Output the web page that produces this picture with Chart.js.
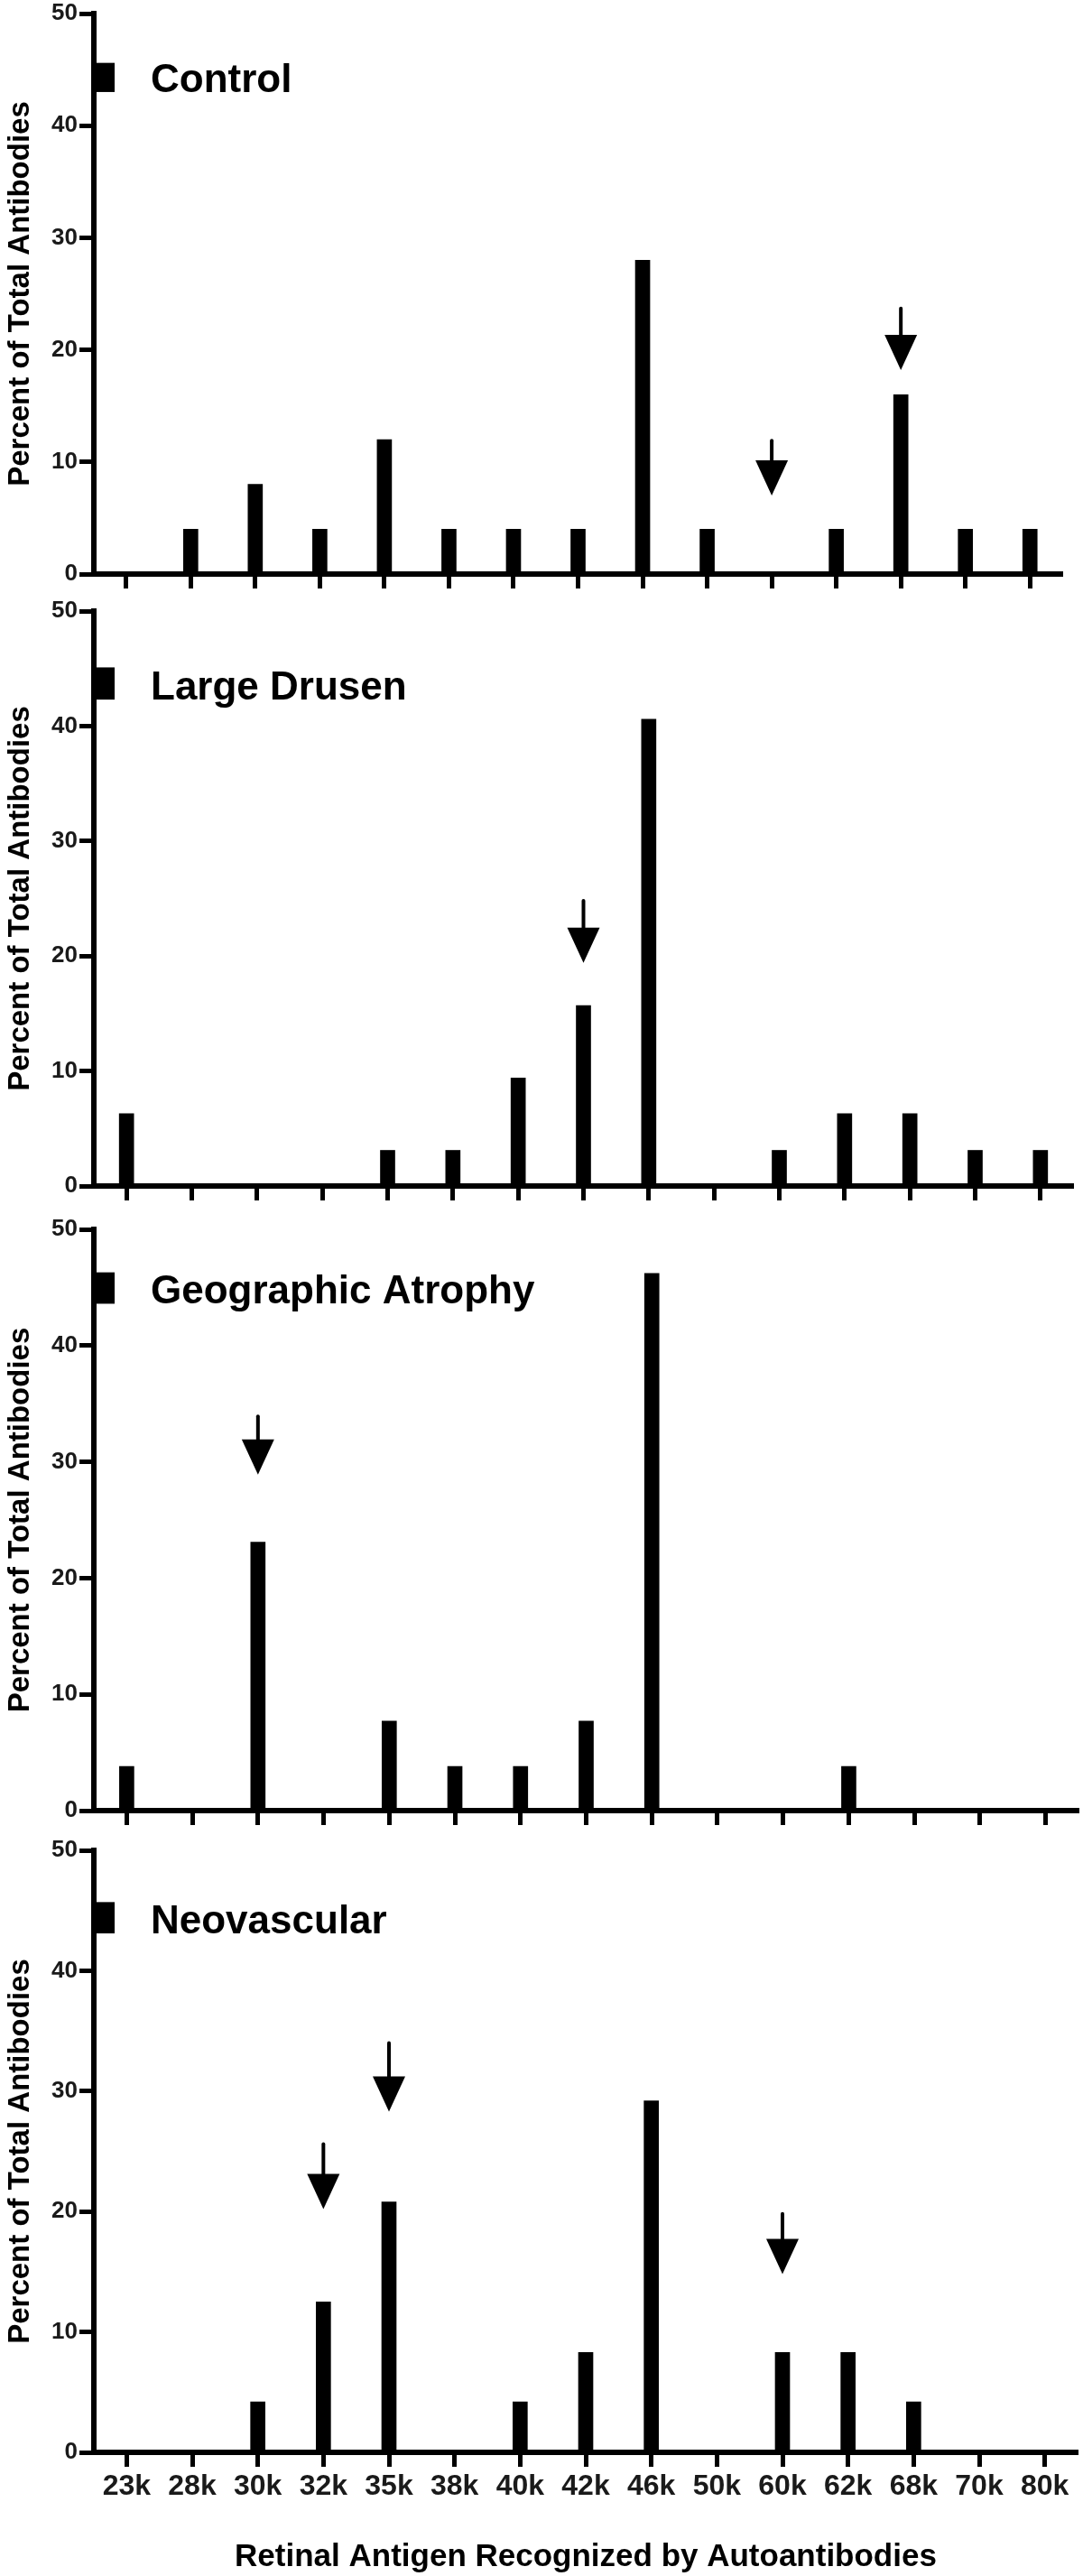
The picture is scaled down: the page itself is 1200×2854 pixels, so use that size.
<!DOCTYPE html>
<html>
<head>
<meta charset="utf-8">
<title>Retinal antigens recognized by autoantibodies</title>
<script src="https://cdn.jsdelivr.net/npm/chart.js@4.4.1/dist/chart.umd.min.js"></script>
<style>
  html, body { margin: 0; padding: 0; background: #fff; }
  #page { position: relative; width: 1200px; height: 2854px; overflow: hidden; }
  canvas { position: absolute; left: 0; }
</style>
</head>
<body>
<div id="page">
  <canvas id="c1" width="1200" height="656" style="top:0px"></canvas>
  <canvas id="c2" width="1200" height="672" style="top:662px"></canvas>
  <canvas id="c3" width="1200" height="679" style="top:1347px"></canvas>
  <canvas id="c4" width="1200" height="819" style="top:2035px"></canvas>
</div>
<script>
// x categories (molecular weight of the retinal antigen)
const antigens = ['23k', '28k', '30k', '32k', '35k', '38k', '40k', '42k', '46k', '50k', '60k', '62k', '68k', '70k', '80k'];

// percent of total antibodies
const control           = [0, 4, 8, 4, 12, 4, 4, 4, 28, 4, 0, 4, 16, 4, 4];
const largeDrusen       = [6.3, 0, 0, 0, 3.1, 3.1, 9.4, 15.7, 40.6, 0, 3.1, 6.3, 6.3, 3.1, 3.1];
const geographicAtrophy = [3.8, 0, 23.1, 0, 7.7, 3.8, 3.8, 7.7, 46.2, 0, 0, 3.8, 0, 0, 0];
const neovascular       = [0, 0, 4.2, 12.5, 20.8, 0, 4.2, 8.3, 29.2, 0, 8.3, 8.3, 4.2, 0, 0];

// arrows: category, value at top of shaft, value at tip
const controlArrowAt  = ['60k', '68k'];
const controlArrowTop = [11.9, 23.7];
const controlArrowTip = [7.0, 18.2];
const drusenArrowAt   = ['42k'];
const drusenArrowTop  = [24.8];
const drusenArrowTip  = [19.4];
const atrophyArrowAt  = ['30k'];
const atrophyArrowTop = [33.9];
const atrophyArrowTip = [28.9];
const neoArrowAt      = ['32k', '35k', '60k'];
const neoArrowTop     = [25.6, 34.0, 19.8];
const neoArrowTip     = [20.2, 28.3, 14.8];

const yTitle = 'Percent of Total Antibodies';
const xTitle = 'Retinal Antigen Recognized by Autoantibodies';

const FONT = '"Liberation Sans", Arial, Helvetica, sans-serif';
Chart.defaults.font.family = FONT;
Chart.defaults.color = '#111';

// layout of each panel (canvas ids, plot edges in canvas pixels)
const panels = [
    { canvas: 'c1', label: 'Control', values: control,
      arrowAt: controlArrowAt, arrowTop: controlArrowTop, arrowTip: controlArrowTip,
      box: [45.6, 43.0], padRight: 23, bottomH: 20, last: false },
    { canvas: 'c2', label: 'Large Drusen', values: largeDrusen,
      arrowAt: drusenArrowAt, arrowTop: drusenArrowTop, arrowTip: drusenArrowTip,
      box: [45.1, 42.3], padRight: 11, bottomH: 20, last: false },
    { canvas: 'c3', label: 'Geographic Atrophy', values: geographicAtrophy,
      arrowAt: atrophyArrowAt, arrowTop: atrophyArrowTop, arrowTip: atrophyArrowTip,
      box: [46.3, 43.6], padRight: 5, bottomH: 20, last: false },
    { canvas: 'c4', label: 'Neovascular', values: neovascular,
      arrowAt: neoArrowAt, arrowTop: neoArrowTop, arrowTip: neoArrowTip,
      box: [45.7, 43.1], padRight: 6, bottomH: 137, last: true }
];

// draws the group key (black square + name) and the arrows
const annotate = {
    id: 'annotate',
    afterDatasetsDraw(chart, args, opts) {
        const ctx = chart.ctx;
        const x = chart.scales.x;
        const y = chart.scales.y;
        const left = chart.chartArea.left;
        ctx.save();
        ctx.fillStyle = '#000';
        ctx.strokeStyle = '#000';

        const bt = y.getPixelForValue(opts.box[0]);
        const bb = y.getPixelForValue(opts.box[1]);
        ctx.fillRect(left, bt, 23, bb - bt);
        ctx.font = 'bold 44px ' + FONT;
        ctx.textBaseline = 'alphabetic';
        ctx.textAlign = 'left';
        ctx.fillText(chart.data.datasets[0].label, left + 63, bb);

        opts.at.forEach((cat, i) => {
            const cx = x.getPixelForValue(antigens.indexOf(cat));
            const tip = y.getPixelForValue(opts.tip[i]);
            const top = y.getPixelForValue(opts.top[i]);
            const head = tip - 39;
            ctx.lineWidth = 4;
            ctx.lineCap = 'round';
            ctx.beginPath();
            ctx.moveTo(cx, top);
            ctx.lineTo(cx, head + 2);
            ctx.stroke();
            ctx.beginPath();
            ctx.moveTo(cx - 18, head);
            ctx.lineTo(cx + 18, head);
            ctx.lineTo(cx, tip);
            ctx.closePath();
            ctx.fill();
        });
        ctx.restore();
    }
};

panels.forEach(p => {
    new Chart(document.getElementById(p.canvas), {
        type: 'bar',
        data: {
            labels: antigens,
            datasets: [{
                label: p.label,
                data: p.values,
                backgroundColor: '#000',
                borderWidth: 0,
                barThickness: 16
            }]
        },
        options: {
            responsive: false,
            animation: false,
            events: [],
            layout: { padding: { top: 15, right: p.padRight, left: 0, bottom: 0 } },
            scales: {
                x: {
                    afterFit: s => { s.height = p.bottomH; },
                    border: { display: true, width: 6, color: '#000' },
                    grid: {
                        display: true,
                        offset: false,
                        drawOnChartArea: false,
                        drawTicks: true,
                        tickLength: 16,
                        tickWidth: 5,
                        tickColor: '#000'
                    },
                    ticks: {
                        display: p.last,
                        color: '#1a1a1a',
                        padding: 3,
                        maxRotation: 0,
                        autoSkip: false,
                        font: { size: 32, weight: 'bold' }
                    },
                    title: {
                        display: p.last,
                        text: xTitle,
                        color: '#000',
                        padding: 0,
                        font: { size: 35, weight: 'bold' }
                    }
                },
                y: {
                    min: 0,
                    max: 50,
                    afterFit: s => { s.width = 104; },
                    border: { display: true, width: 6, color: '#000' },
                    grid: {
                        display: true,
                        drawOnChartArea: false,
                        drawTicks: true,
                        tickLength: 16,
                        tickWidth: 5,
                        tickColor: '#000'
                    },
                    ticks: {
                        stepSize: 10,
                        color: '#1a1a1a',
                        padding: 2,
                        font: { size: 26, weight: 'bold', lineHeight: 1 }
                    },
                    title: {
                        display: true,
                        text: yTitle,
                        color: '#000',
                        padding: { top: 3, bottom: 0 },
                        font: { size: 33, weight: 'bold' }
                    }
                }
            },
            plugins: {
                legend: { display: false },
                tooltip: { enabled: false },
                annotate: { box: p.box, at: p.arrowAt, top: p.arrowTop, tip: p.arrowTip }
            }
        },
        plugins: [annotate]
    });
});
</script>
</body>
</html>
